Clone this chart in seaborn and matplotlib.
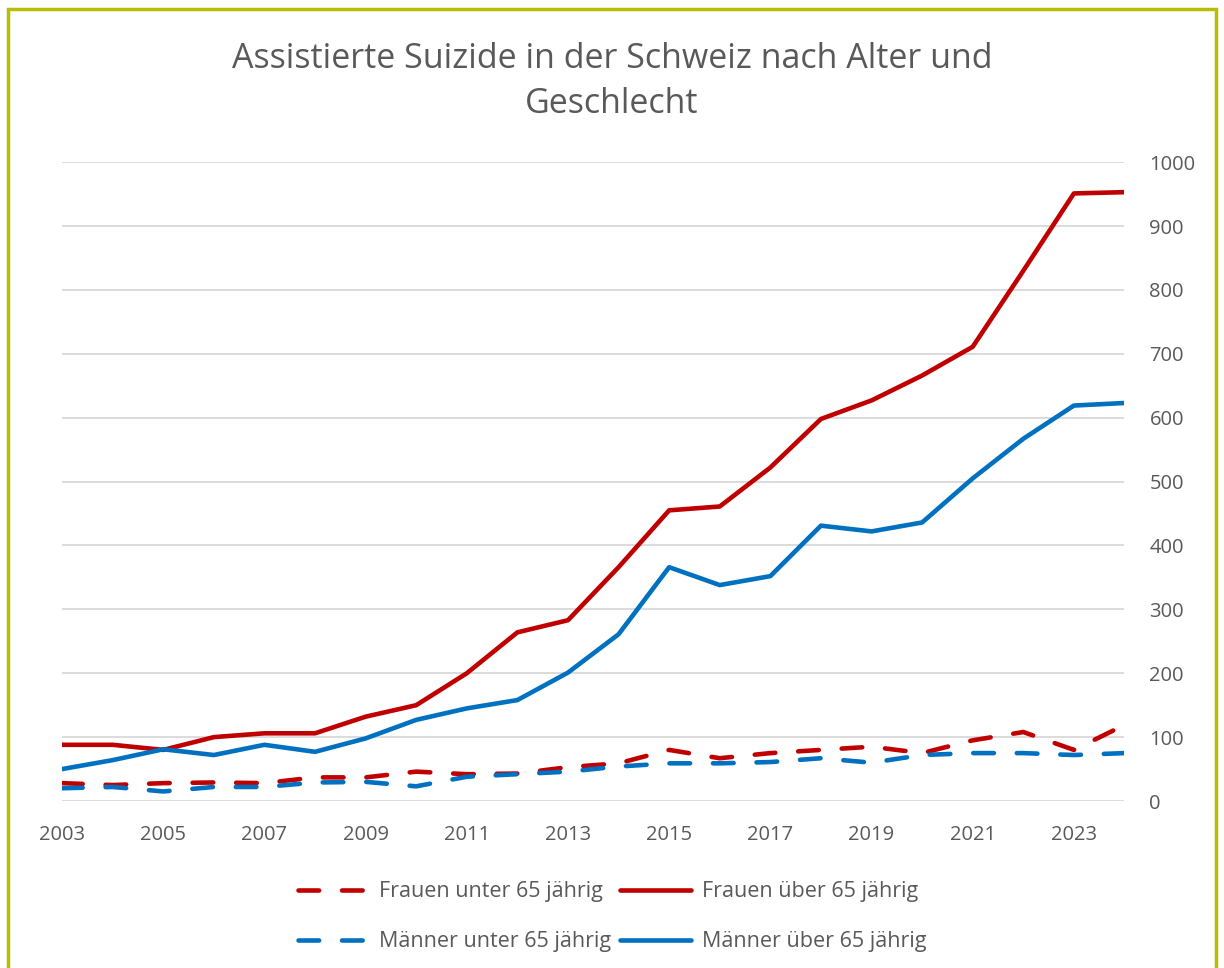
import pandas as pd
import seaborn as sns
import matplotlib.pyplot as plt
from matplotlib.patches import Rectangle

# data
years = list(range(2003, 2025))
frauen_unter = [28, 25, 28, 29, 28, 37, 37, 46, 42, 43, 53, 59, 80, 67, 75, 80, 85, 75, 95, 108, 80, 119]
frauen_ueber = [88, 88, 80, 100, 106, 106, 132, 150, 200, 264, 283, 366, 455, 461, 522, 598, 627, 666, 711, 830, 951, 953]
maenner_unter = [20, 22, 15, 22, 22, 29, 30, 23, 38, 42, 46, 54, 59, 59, 61, 67, 60, 72, 75, 75, 72, 75]
maenner_ueber = [50, 64, 81, 72, 88, 77, 98, 127, 145, 158, 201, 261, 366, 338, 352, 431, 422, 436, 505, 567, 619, 623]

labels = ['Frauen unter 65 jährig', 'Frauen über 65 jährig',
          'Männer unter 65 jährig', 'Männer über 65 jährig']

df = pd.DataFrame({
    'Jahr': years * 4,
    'Anzahl': frauen_unter + frauen_ueber + maenner_unter + maenner_ueber,
    'Gruppe': [labels[0]] * 22 + [labels[1]] * 22 + [labels[2]] * 22 + [labels[3]] * 22,
})

red = '#C00000'
blue = '#0070C0'
palette = {labels[0]: red, labels[1]: red, labels[2]: blue, labels[3]: blue}
dashes = {labels[0]: (4.5, 5), labels[1]: '', labels[2]: (4.5, 5), labels[3]: ''}

sns.set_style('white')
plt.rcParams['font.family'] = ['Open Sans', 'DejaVu Sans']

fig = plt.figure(figsize=(12.24, 9.68), dpi=100)
ax = fig.add_axes([0.0507, 0.1725, 0.868, 0.66])

sns.lineplot(data=df, x='Jahr', y='Anzahl', hue='Gruppe', style='Gruppe',
             palette=palette, dashes=dashes, linewidth=3.3, ax=ax, legend=False)
for line in ax.lines:
    line.set_dash_capstyle('round')
    line.set_solid_capstyle('round')

ax.set_xlim(2003, 2024)
ax.set_ylim(0, 1000)
ax.set_xticks(range(2003, 2024, 2))
ax.set_yticks(range(0, 1001, 100))
ax.yaxis.tick_right()
ax.grid(axis='y', color='#d9d9d9', linewidth=1.3)
ax.grid(axis='x', visible=False)
for s in ax.spines.values():
    s.set_visible(False)
ax.tick_params(axis='both', length=0, labelsize=14.5, labelcolor='#595959')
ax.tick_params(axis='y', pad=18)
ax.tick_params(axis='x', pad=17)
for t in ax.get_yticklabels():
    t.set_horizontalalignment('left')
ax.set_xlabel('')
ax.set_ylabel('')

fig.text(0.5, 1 - 42 / 968, 'Assistierte Suizide in der Schweiz nach Alter und\nGeschlecht',
         ha='center', va='top', fontsize=24.5, color='#595959', linespacing=1.42)

# legend: rows Frauen / Männer
handles = [ax.lines[0], ax.lines[2], ax.lines[1], ax.lines[3]]
order = [labels[0], labels[2], labels[1], labels[3]]
fig.legend(handles, order, ncol=2, loc='center', bbox_to_anchor=(0.5, 0.053),
           frameon=False, fontsize=15.5, labelcolor='#595959', handlelength=3.3,
           handletextpad=0.5, columnspacing=0.4, labelspacing=1.35)

# olive frame around the chart
fig.patches.append(Rectangle((8 / 1224, -0.05), 1208 / 1224, 1 - 9 / 968 + 0.05,
                             transform=fig.transFigure, fill=False,
                             edgecolor='#B8BD00', linewidth=2.5))

fig.savefig('out.png', dpi=100)
